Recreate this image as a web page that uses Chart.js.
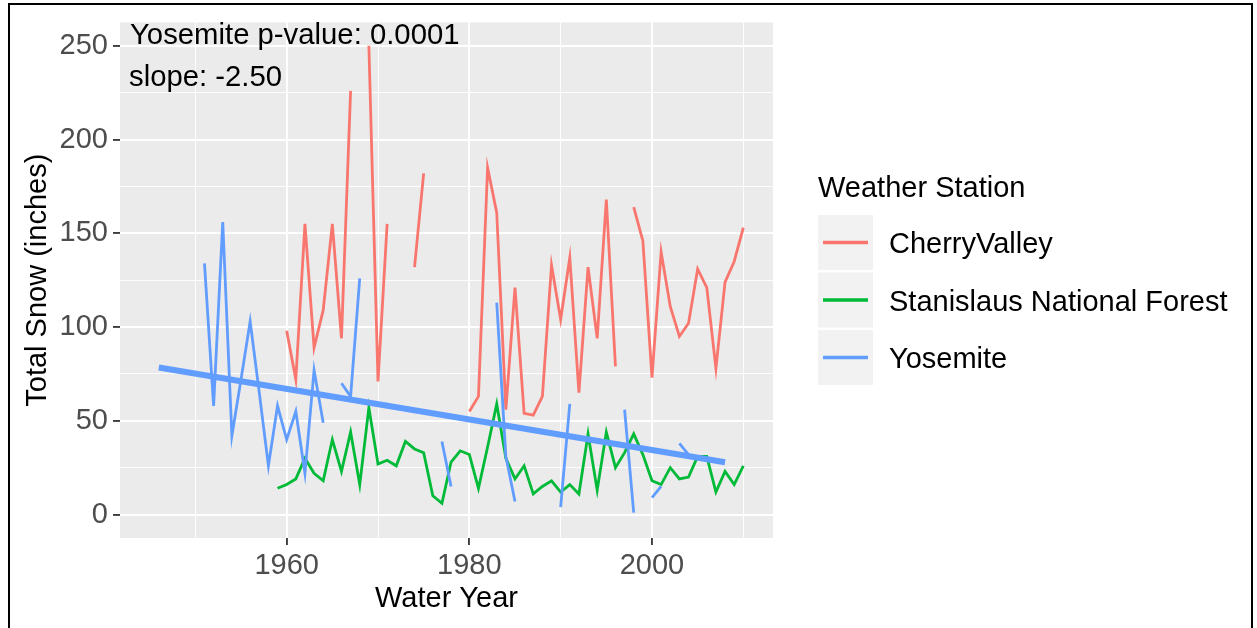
<!DOCTYPE html>
<html>
<head>
<meta charset="utf-8">
<script src="https://cdn.jsdelivr.net/npm/chart.js@4"></script>
<style>
  html, body { margin: 0; background: #ffffff; }
  #wrap { width: 1257px; height: 628px; position: relative; }
</style>
</head>
<body>
<div id="wrap"><canvas id="snow"></canvas></div>
<script>
// water years shared by the three station series
const years = [
  1951, 1952, 1953, 1954, 1955, 1956, 1957, 1958, 1959, 1960,
  1961, 1962, 1963, 1964, 1965, 1966, 1967, 1968, 1969, 1970,
  1971, 1972, 1973, 1974, 1975, 1976, 1977, 1978, 1979, 1980,
  1981, 1982, 1983, 1984, 1985, 1986, 1987, 1988, 1989, 1990,
  1991, 1992, 1993, 1994, 1995, 1996, 1997, 1998, 1999, 2000,
  2001, 2002, 2003, 2004, 2005, 2006, 2007, 2008, 2009, 2010
];

// total snow (inches), null = missing year
const cherrySnow = [
  null, null, null, null, null, null, null, null, null, 98,
  72, 155, 89, 109, 155, 94, 226, null, 250, 71,
  155, null, null, 132, 182, null, null, null, null, 55,
  63, 185, 161, 56, 121, 54, 53, 63, 133, 104,
  137, 65, 132, 94, 168, 79, null, 164, 146, 73,
  140, 111, 95, 102, 131, 121, 78, 124, 135, 153
];
const stanislausSnow = [
  null, null, null, null, null, null, null, null, 14, 16,
  19, 30, 22, 18, 40, 23, 44, 16, 57, 27,
  29, 26, 39, 35, 33, 10, 6, 28, 34, 32,
  14, 36, 59, 30, 19, 26, 11, 15, 18, 12,
  16, 11, 43, 13, 44, 25, 33, 43, 32, 18,
  16, 25, 19, 20, 31, 31, 12, 23, 16, 26
];
const yosemiteSnow = [
  134, 58, 156, 42, 72, 103, 65, 26, 58, 40,
  55, 22, 77, 49, null, 70, 63, 126, null, null,
  null, null, null, null, null, null, 39, 15, null, null,
  null, null, 113, 31, 7, null, null, null, null, 4,
  59, null, null, null, null, null, 56, 1, null, 9,
  15, null, 38, 32, null, null, null, null, null, null
];

// linear fit for Yosemite
const trendYears = [1946, 2008];
const trendSnow = [78.4, 27.9];

const stations = ['CherryValley', 'Stanislaus National Forest', 'Yosemite'];
const stationColors = ['#F8766D', '#00BA38', '#619CFF'];

const xGridYears = [1950, 1960, 1970, 1980, 1990, 2000, 2010];
const xLabelYears = [1960, 1980, 2000];
const yGridValues = [0, 25, 50, 75, 100, 125, 150, 175, 200, 225, 250];
const yLabelValues = [0, 50, 100, 150, 200, 250];

const annotationLines = ['Yosemite p-value: 0.0001', 'slope: -2.50'];

const FONT = "'Liberation Sans', Arial, sans-serif";

function toPoints(xs, ys) {
  return xs.map((x, i) => ({ x: x, y: ys[i] }));
}

const seriesValues = [cherrySnow, stanislausSnow, yosemiteSnow];

let datasets = stations.map((name, i) => ({
  label: name,
  data: toPoints(years, seriesValues[i]),
  borderColor: stationColors[i],
  backgroundColor: stationColors[i],
  borderWidth: 2.8,
  pointRadius: 0,
  spanGaps: false,
  tension: 0,
  order: 3 - i
}));
datasets.push({
  label: 'Yosemite trend',
  data: toPoints(trendYears, trendSnow),
  borderColor: '#619CFF',
  borderWidth: 6,
  pointRadius: 0,
  order: 0
});

const panelPlugin = {
  id: 'panel',
  beforeDraw(chart) {
    const { ctx, chartArea: a } = chart;
    ctx.save();
    ctx.fillStyle = '#ffffff';
    ctx.fillRect(0, 0, chart.width, chart.height);
    ctx.fillStyle = '#EBEBEB';
    ctx.fillRect(a.left, a.top, a.right - a.left, a.bottom - a.top);
    ctx.restore();
  },
  afterDraw(chart) {
    const { ctx, chartArea: a } = chart;
    ctx.save();

    // annotation text top left of the panel
    ctx.fillStyle = '#000000';
    ctx.font = '29.3px ' + FONT;
    ctx.textAlign = 'left';
    ctx.textBaseline = 'alphabetic';
    ctx.fillText(annotationLines[0], a.left + 10, a.top + 21.5);
    ctx.fillText(annotationLines[1], a.left + 9, a.top + 63.5);

    // legend
    const lx = 818;
    ctx.font = '29px ' + FONT;
    ctx.fillText('Weather Station', lx, 197);
    const keyTops = [215, 272.5, 330];
    stations.forEach((name, i) => {
      const top = keyTops[i];
      ctx.fillStyle = '#F2F2F2';
      ctx.fillRect(lx, top, 55, 55);
      const cy = top + 27.5;
      ctx.strokeStyle = stationColors[i];
      ctx.lineWidth = 3.5;
      ctx.beginPath();
      ctx.moveTo(lx + 5, cy);
      ctx.lineTo(lx + 50, cy);
      ctx.stroke();
      ctx.fillStyle = '#000000';
      ctx.font = '29px ' + FONT;
      ctx.fillText(name, 889, cy + 10.5);
    });

    // frame around the picture
    ctx.strokeStyle = '#000000';
    ctx.lineWidth = 2;
    ctx.strokeRect(9, 4, 1243, 640);
    ctx.restore();
  }
};

const chart = new Chart(document.getElementById('snow'), {
  type: 'line',
  data: { datasets: datasets },
  options: {
    responsive: true,
    maintainAspectRatio: false,
    animation: false,
    layout: { padding: { left: 0, top: 19.5, right: 484, bottom: 0 } },
    plugins: {
      legend: { display: false },
      tooltip: { enabled: false }
    },
    scales: {
      x: {
        type: 'linear',
        min: 1941.75,
        max: 2013.25,
        afterBuildTicks: axis => { axis.ticks = xGridYears.map(v => ({ value: v })); },
        afterFit: scale => { scale.height = 90; },
        border: { display: false },
        grid: {
          color: '#ffffff',
          lineWidth: c => xLabelYears.includes(c.tick && c.tick.value) ? 1.9 : 0.9,
          tickColor: c => xLabelYears.includes(c.tick && c.tick.value) ? '#333333' : 'rgba(0,0,0,0)',
          tickLength: 7,
          tickWidth: 1.8
        },
        ticks: {
          autoSkip: false,
          maxRotation: 0,
          padding: 4,
          color: '#4D4D4D',
          font: { family: FONT, size: 29 },
          callback: v => xLabelYears.includes(v) ? String(v) : ''
        },
        title: {
          display: true,
          text: 'Water Year',
          color: '#000000',
          font: { family: FONT, size: 29 },
          padding: { top: 0, bottom: 12 }
        }
      },
      y: {
        type: 'linear',
        min: -12.5,
        max: 262.5,
        afterBuildTicks: axis => { axis.ticks = yGridValues.map(v => ({ value: v })); },
        afterFit: scale => { scale.width = 120; },
        border: { display: false },
        grid: {
          color: '#ffffff',
          lineWidth: c => yLabelValues.includes(c.tick && c.tick.value) ? 1.9 : 0.9,
          tickColor: c => yLabelValues.includes(c.tick && c.tick.value) ? '#333333' : 'rgba(0,0,0,0)',
          tickLength: 7,
          tickWidth: 1.8
        },
        ticks: {
          autoSkip: false,
          padding: 5,
          color: '#4D4D4D',
          font: { family: FONT, size: 29 },
          callback: v => yLabelValues.includes(v) ? String(v) : ''
        },
        title: {
          display: true,
          text: 'Total Snow (inches)',
          color: '#000000',
          font: { family: FONT, size: 29 },
          padding: { top: 21, bottom: 0 }
        }
      }
    }
  },
  plugins: [panelPlugin]
});
</script>
</body>
</html>
